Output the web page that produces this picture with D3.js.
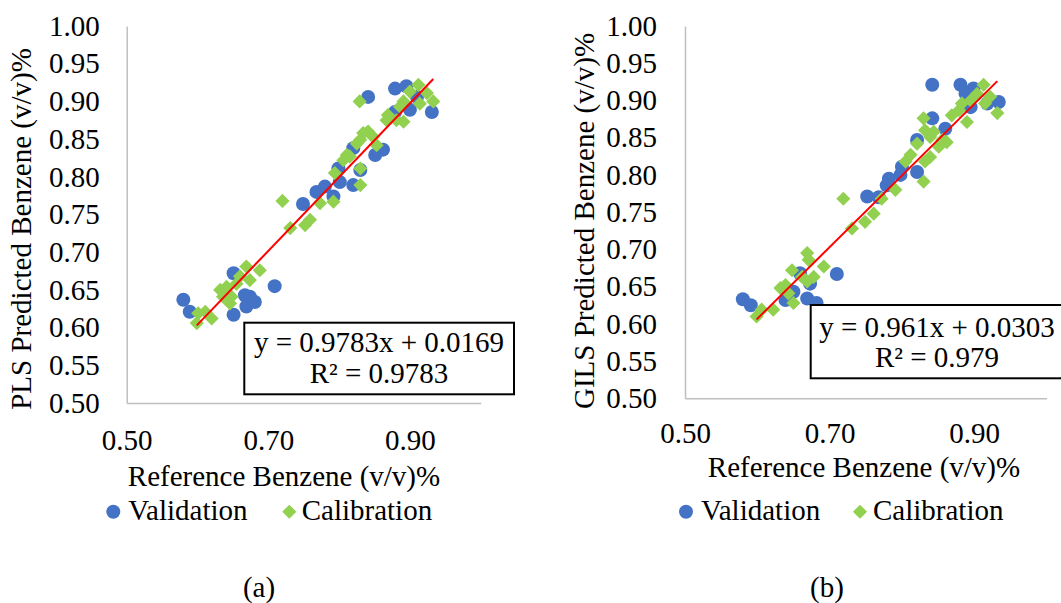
<!DOCTYPE html>
<html>
<head>
<meta charset="utf-8">
<script src="https://cdn.jsdelivr.net/npm/d3@7"></script>
<style>
    body { margin: 0; background: #fff; }
    svg text { font-family: "Liberation Serif", "Times New Roman", serif; fill: #000; }
</style>
</head>
<body>
<div id="graph"></div>
<script>
// values
const valAx = [0.580, 0.589, 0.651, 0.669, 0.681, 0.674, 0.709, 0.651, 0.667, 0.749, 0.841, 0.879, 0.895, 0.931,
    0.900, 0.879, 0.820, 0.862, 0.851, 0.799, 0.830, 0.801, 0.820, 0.768, 0.780, 0.792, 0.910];
const valAy = [0.637, 0.621, 0.617, 0.628, 0.634, 0.641, 0.655, 0.672, 0.643, 0.764, 0.906, 0.917, 0.920, 0.886,
    0.889, 0.886, 0.838, 0.836, 0.829, 0.811, 0.809, 0.793, 0.789, 0.780, 0.787, 0.774, 0.906];
const calAx = [0.599, 0.601, 0.611, 0.620, 0.632, 0.641, 0.648, 0.655, 0.669, 0.674, 0.688, 0.646, 0.660, 0.636,
    0.720, 0.731, 0.752, 0.759, 0.773, 0.792, 0.829, 0.912, 0.900, 0.924, 0.933, 0.891, 0.886, 0.869, 0.867,
    0.891, 0.881, 0.914, 0.841, 0.834, 0.830, 0.848, 0.853, 0.825, 0.811, 0.806, 0.815, 0.830, 0.794, 0.830];
const calAy = [0.606, 0.619, 0.621, 0.612, 0.650, 0.654, 0.641, 0.658, 0.681, 0.663, 0.676, 0.632, 0.668, 0.641,
    0.768, 0.732, 0.736, 0.743, 0.765, 0.767, 0.900, 0.922, 0.913, 0.911, 0.900, 0.900, 0.893, 0.882, 0.875,
    0.873, 0.875, 0.897, 0.860, 0.858, 0.849, 0.853, 0.842, 0.844, 0.829, 0.822, 0.827, 0.811, 0.805, 0.789];

const valBx = [0.580, 0.591, 0.639, 0.650, 0.669, 0.682, 0.659, 0.673, 0.710, 0.752, 0.768, 0.842, 0.881, 0.899,
    0.934, 0.918, 0.842, 0.860, 0.821, 0.800, 0.821, 0.782, 0.779, 0.798, 0.888, 0.895];
const valBy = [0.633, 0.625, 0.632, 0.643, 0.634, 0.628, 0.668, 0.654, 0.667, 0.771, 0.770, 0.921, 0.921, 0.916,
    0.898, 0.896, 0.876, 0.862, 0.847, 0.811, 0.804, 0.795, 0.786, 0.800, 0.909, 0.891];
const calBx = [0.599, 0.606, 0.622, 0.632, 0.639, 0.648, 0.669, 0.671, 0.678, 0.692, 0.662, 0.650, 0.643, 0.669,
    0.719, 0.731, 0.749, 0.761, 0.772, 0.791, 0.913, 0.904, 0.922, 0.915, 0.932, 0.895, 0.883, 0.879, 0.869,
    0.890, 0.830, 0.832, 0.844, 0.839, 0.821, 0.856, 0.862, 0.851, 0.812, 0.805, 0.839, 0.832, 0.830];
const calBy = [0.610, 0.619, 0.619, 0.648, 0.652, 0.672, 0.695, 0.686, 0.663, 0.677, 0.663, 0.628, 0.641, 0.657,
    0.768, 0.728, 0.737, 0.748, 0.768, 0.780, 0.921, 0.909, 0.905, 0.896, 0.883, 0.900, 0.896, 0.887, 0.880,
    0.871, 0.876, 0.860, 0.858, 0.851, 0.842, 0.847, 0.844, 0.838, 0.827, 0.818, 0.824, 0.818, 0.791];

const slopes = [0.9783, 0.961];
const intercepts = [0.0169, 0.0303];
const eqLabels = ["y = 0.9783x + 0.0169", "y = 0.961x + 0.0303"];
const r2Labels = ["R² = 0.9783", "R² = 0.979"];
const yTitles = ["PLS Predicted Benzene (v/v)%", "GILS Predicted Benzene (v/v)%"];
const panelLabels = ["(a)", "(b)"];
const xTicks = [0.5, 0.7, 0.9];
const yTicks = [0.5, 0.55, 0.6, 0.65, 0.7, 0.75, 0.8, 0.85, 0.9, 0.95, 1.0];
const seriesNames = ["Validation", "Calibration"];

const blue = "#4472C4", green = "#92D050";

const svg = d3.select("#graph")
    .append("svg")
    .attr("width", 1061)
    .attr("height", 603);

// layout of the two panels (pixel positions measured on the picture)
const panels = [
    {
        vx: valAx, vy: valAy, cx: calAx, cy: calAy,
        xr: [126.7, 480.7], yr: [403, 26], yPad: 27, xPad: 26,
        yTitle: { x: 31, y: 229 }, xTitle: { x: 284, y: 486 },
        box: { x: 244.3, y: 322.7, w: 269.7, h: 71.6, cx: 379, b1: 351.5, b2: 383 },
        legend: { c: 113.3, t1: 128.3, d: 289.3, t2: 301.7 }, label: 259
    },
    {
        vx: valBx, vy: valBy, cx: calBx, cy: calBy,
        xr: [685, 1046.5], yr: [398.3, 26], yPad: 28, xPad: 24,
        yTitle: { x: 594, y: 221 }, xTitle: { x: 864, y: 477 },
        box: { x: 810.7, y: 305, w: 270, h: 73.3, cx: 937, b1: 337, b2: 367 },
        legend: { c: 686, t1: 701, d: 860, t2: 873 }, label: 827
    }
];

const diamond = d3.symbol().type(d3.symbolSquare).size(100);

panels.forEach((p, i) => {
    let x = d3.scaleLinear().domain([0.5, 1.0]).range(p.xr);
    let y = d3.scaleLinear().domain([0.5, 1.0]).range(p.yr);

    let g = svg.append("g");

    // Y axis
    g.append("g")
        .attr("transform", "translate(" + p.xr[0] + ",0)")
        .call(d3.axisLeft(y).tickValues(yTicks).tickFormat(d3.format(".2f")).tickSize(0).tickPadding(p.yPad))
        .call(a => a.select(".domain").attr("stroke", "#bfbfbf").attr("stroke-width", 1.5))
        .selectAll("text")
        .attr("font-size", "29px");

    // X axis
    g.append("g")
        .attr("transform", "translate(0," + p.yr[0] + ")")
        .call(d3.axisBottom(x).tickValues(xTicks).tickFormat(d3.format(".2f")).tickSize(0).tickPadding(p.xPad))
        .call(a => a.select(".domain").attr("stroke", "#bfbfbf").attr("stroke-width", 1.5))
        .selectAll("text")
        .attr("font-size", "29px");

    // axis titles
    g.append("text")
        .attr("transform", "translate(" + p.yTitle.x + "," + p.yTitle.y + ") rotate(-90)")
        .style("text-anchor", "middle")
        .attr("font-size", "29px")
        .text(yTitles[i]);

    g.append("text")
        .attr("x", p.xTitle.x)
        .attr("y", p.xTitle.y)
        .style("text-anchor", "middle")
        .attr("font-size", "29px")
        .text("Reference Benzene (v/v)%");

    // validation points
    g.append("g")
        .selectAll("circle")
        .data(p.vx)
        .enter()
        .append("circle")
        .attr("cx", (d) => x(d))
        .attr("cy", (d, j) => y(p.vy[j]))
        .attr("r", 7)
        .attr("fill", blue);

    // calibration points
    g.append("g")
        .selectAll("path")
        .data(p.cx)
        .enter()
        .append("path")
        .attr("d", diamond)
        .attr("transform", (d, j) => "translate(" + x(d) + "," + y(p.cy[j]) + ") rotate(45)")
        .attr("fill", green);

    // trend line over the calibration range
    let ext = d3.extent(p.cx);
    g.append("path")
        .datum(ext)
        .attr("d", d3.line()
            .x((d) => x(d))
            .y((d) => y(slopes[i] * d + intercepts[i])))
        .attr("stroke", "#ff0000")
        .style("stroke-width", 2)
        .style("fill", "none");

    // equation box
    g.append("rect")
        .attr("x", p.box.x)
        .attr("y", p.box.y)
        .attr("width", p.box.w)
        .attr("height", p.box.h)
        .attr("fill", "#fff")
        .attr("stroke", "#000")
        .attr("stroke-width", 2);

    g.append("text")
        .attr("x", p.box.cx)
        .attr("y", p.box.b1)
        .style("text-anchor", "middle")
        .attr("font-size", "29px")
        .text(eqLabels[i]);

    g.append("text")
        .attr("x", p.box.cx)
        .attr("y", p.box.b2)
        .style("text-anchor", "middle")
        .attr("font-size", "29px")
        .text(r2Labels[i]);

    // legend
    g.append("circle")
        .attr("cx", p.legend.c)
        .attr("cy", 511.7)
        .attr("r", 7)
        .attr("fill", blue);

    g.append("text")
        .attr("x", p.legend.t1)
        .attr("y", 520)
        .attr("font-size", "29px")
        .text(seriesNames[0]);

    g.append("path")
        .attr("d", diamond)
        .attr("transform", "translate(" + p.legend.d + ",511.7) rotate(45)")
        .attr("fill", green);

    g.append("text")
        .attr("x", p.legend.t2)
        .attr("y", 520)
        .attr("font-size", "29px")
        .text(seriesNames[1]);

    // panel label
    g.append("text")
        .attr("x", p.label)
        .attr("y", 597)
        .style("text-anchor", "middle")
        .attr("font-size", "29px")
        .text(panelLabels[i]);
});
</script>
</body>
</html>
